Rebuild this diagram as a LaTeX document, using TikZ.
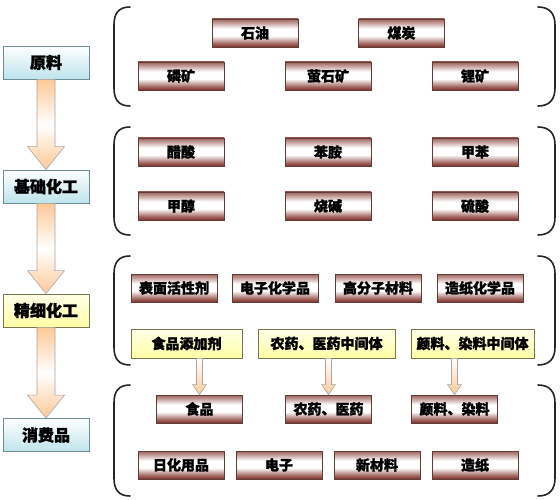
\documentclass[tikz,border=0pt]{standalone}
\usepackage{fontspec}
\setmainfont{Noto Sans CJK SC}[BoldFeatures={FakeBold=1.6}]
\usetikzlibrary{calc}
\definecolor{bbrown}{RGB}{128,48,40}
\definecolor{bborder}{RGB}{95,60,55}
\definecolor{lblue}{RGB}{190,228,236}
\definecolor{lborder}{RGB}{110,140,150}
\definecolor{ylight}{RGB}{255,255,232}
\definecolor{ydark}{RGB}{255,255,165}
\definecolor{yborder}{RGB}{120,120,80}
\definecolor{aorange}{RGB}{255,200,150}
\pgfdeclareverticalshading{brownsh}{100bp}{color(0bp)=(bbrown); color(25bp)=(bbrown); color(31bp)=(bbrown!75); color(45bp)=(white); color(58bp)=(white); color(70bp)=(bbrown!55); color(75bp)=(bbrown!75); color(100bp)=(bbrown!75)}
\tikzset{
  bbox/.style={draw=bborder, line width=0.8pt, shading=brownsh, minimum width=86pt, minimum height=28pt, inner sep=0pt, font=\fontsize{14pt}{14pt}\selectfont\bfseries},
  lbox/.style={draw=lborder, line width=0.8pt, top color=white, bottom color=lblue, minimum width=86pt, minimum height=33pt, inner sep=0pt, font=\fontsize{16pt}{16pt}\selectfont\bfseries},
  ybox/.style={draw=yborder, line width=0.8pt, top color=ylight, bottom color=ydark, minimum height=29pt, inner sep=0pt, font=\fontsize{14pt}{14pt}\selectfont\bfseries},
  bigarrow/.style={draw=gray!70, line width=0.6pt, top color=aorange, bottom color=aorange, middle color=white},
  smallarrow/.style={draw=gray!70, line width=0.6pt, top color=white, bottom color=aorange},
  brc/.style={draw=black!85, line width=1.6pt, line cap=round}
}
\newcommand{\bigarr}[2]{\path[bigarrow] ($(#1.south)+(-9,0)$) -- ($(#2.north)+(-9,-23)$) -- ($(#2.north)+(-18.5,-23)$) -- (#2.north) -- ($(#2.north)+(18.5,-23)$) -- ($(#2.north)+(9,-23)$) -- ($(#1.south)+(9,0)$) -- cycle;}
\newcommand{\smallarr}[2]{\path[smallarrow] ($(#1.south -| #2.north)+(-3,0)$) -- ($(#2.north)+(-3,-10)$) -- ($(#2.north)+(-7,-10)$) -- (#2.north) -- ($(#2.north)+(7,-10)$) -- ($(#2.north)+(3,-10)$) -- ($(#1.south -| #2.north)+(3,0)$) -- cycle;}
\newcommand{\leftbrc}[2]{\draw[brc] (130,#1) .. controls (118,#1) and (114,{#1+7}) .. (114,{#1+18}) -- (114,{#2-18}) .. controls (114,{#2-7}) and (118,#2) .. (130,#2);}
\newcommand{\rightbrc}[2]{\draw[brc] (538,#1) .. controls (550,#1) and (555,{#1+7}) .. (555,{#1+18}) -- (555,{#2-18}) .. controls (555,{#2-7}) and (550,#2) .. (538,#2);}
\begin{document}
\begin{tikzpicture}[x=1pt,y=-1pt]
\useasboundingbox (0,0) rectangle (560,500);
% left column
\node[lbox] (raw) at (46,62.5) {原料};
\node[lbox] (basic) at (46,186.5) {基础化工};
\node[lbox, top color=ylight, bottom color=ydark, draw=yborder] (fine) at (46,310.5) {精细化工};
\node[lbox] (cons) at (46,435) {消费品};
% group 1
\node[bbox] (g1a) at (255,33) {石油};
\node[bbox] (g1b) at (401.5,33) {煤炭};
\node[bbox] (g1c) at (181,76) {磷矿};
\node[bbox] (g1d) at (328,76) {萤石矿};
\node[bbox] (g1e) at (475,76) {锂矿};
% group 2
\node[bbox] (g2a) at (181,152) {醋酸};
\node[bbox] (g2b) at (328,152) {苯胺};
\node[bbox] (g2c) at (475,152) {甲苯};
\node[bbox] (g2d) at (181,206) {甲醇};
\node[bbox] (g2e) at (328,206) {烧碱};
\node[bbox] (g2f) at (475,206) {硫酸};
% group 3
\node[bbox] (g3a) at (174,288) {表面活性剂};
\node[bbox] (g3b) at (275,288) {电子化学品};
\node[bbox] (g3c) at (378,288) {高分子材料};
\node[bbox] (g3d) at (480,288) {造纸化学品};
\node[ybox, minimum width=111pt] (y1) at (186.5,343.5) {食品添加剂};
\node[ybox, minimum width=137pt] (y2) at (326.5,343.5) {农药、医药中间体};
\node[ybox, minimum width=123pt] (y3) at (472.5,343.5) {颜料、染料中间体};
% group 4
\node[bbox] (g4a) at (199.5,409) {食品};
\node[bbox] (g4b) at (328.5,409) {农药、医药};
\node[bbox] (g4c) at (454.5,409) {颜料、染料};
\node[bbox] (g4d) at (181,465) {日化用品};
\node[bbox] (g4e) at (279,465) {电子};
\node[bbox] (g4f) at (377,465) {新材料};
\node[bbox] (g4g) at (475,465) {造纸};
% arrows
\bigarr{raw}{basic}
\bigarr{basic}{fine}
\bigarr{fine}{cons}
\smallarr{y1}{g4a}
\smallarr{y2}{g4b}
\smallarr{y3}{g4c}
% braces
\leftbrc{7}{106}\rightbrc{7}{106}
\leftbrc{127}{235}\rightbrc{127}{235}
\leftbrc{256}{365}\rightbrc{256}{365}
\leftbrc{385}{496}\rightbrc{385}{496}
\end{tikzpicture}
\end{document}
